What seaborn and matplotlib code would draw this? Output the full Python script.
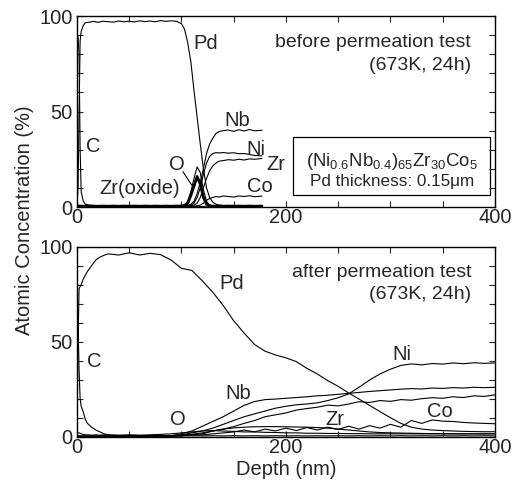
import matplotlib
matplotlib.use("Agg")
import matplotlib.pyplot as plt
import seaborn as sns
from matplotlib.patches import Rectangle
from matplotlib.ticker import MultipleLocator

# ---- before permeation test (673K, 24h) ----
depth_top = [0, 1, 2, 3, 4, 6, 8, 12, 16, 20, 25, 30, 35, 40, 45, 50, 55, 60, 65, 70,
             75, 80, 85, 90, 95, 100, 103, 106, 109, 112, 115, 118, 121, 124, 127, 130,
             133, 136, 140, 145, 150, 155, 160, 165, 170, 177]
pd_top = [2, 10, 50, 87, 92, 95, 96.5, 96.8, 97.2, 96.7, 97.3, 97, 96.8, 97.4, 97, 97.3,
          96.9, 97.5, 97.1, 97.4, 97, 97.6, 97.2, 97.5, 97.3, 96, 93, 86, 76, 61, 47, 33,
          20, 10, 5, 2.5, 1.5, 1, 0.8, 0.6, 0.7, 0.5, 0.6, 0.5, 0.6, 0.5]
c_top = [88, 89, 80, 30, 8, 3, 1.5, 1, 0.8, 0.6, 0.7, 0.5, 0.6, 0.4, 0.6, 0.5, 0.7, 0.5,
         0.4, 0.6, 0.5, 0.7, 0.5, 0.6, 0.4, 0.5, 0.5, 0.4, 0.5, 0.3, 0.4, 0.3, 0.3, 0.4,
         0.3, 0.3, 0.3, 0.3, 0.3, 0.3, 0.3, 0.3, 0.3, 0.3, 0.3, 0.3]
o_top = [1, 1, 0.8, 0.6, 0.5, 0.6, 0.5, 0.4, 0.6, 0.5, 0.4, 0.6, 0.5, 0.4, 0.5, 0.6, 0.4,
         0.5, 0.6, 0.4, 0.5, 0.6, 0.4, 0.5, 0.6, 0.8, 1, 3, 8, 15, 21, 18, 9, 3, 1, 0.6,
         0.5, 0.5, 0.4, 0.5, 0.4, 0.5, 0.4, 0.5, 0.4, 0.5]
zrox_top = [0.4, 0.4, 0.5, 0.4, 0.5, 0.4, 0.5, 0.4, 0.5, 0.4, 0.5, 0.4, 0.5, 0.4, 0.5,
            0.4, 0.5, 0.4, 0.5, 0.4, 0.5, 0.4, 0.5, 0.4, 0.5, 0.5, 0.8, 2, 6, 11, 16, 12,
            5, 1.5, 0.6, 0.5, 0.4, 0.5, 0.4, 0.5, 0.4, 0.5, 0.4, 0.5, 0.4, 0.5]
nb_top = [0.3, 0.3, 0.3, 0.3, 0.3, 0.3, 0.3, 0.3, 0.3, 0.3, 0.3, 0.3, 0.3, 0.3, 0.3, 0.3,
          0.3, 0.3, 0.3, 0.3, 0.3, 0.3, 0.3, 0.3, 0.3, 0.3, 0.5, 0.8, 1.5, 3, 7, 13, 20,
          28, 33, 36, 38.5, 39.5, 40, 40.3, 39.6, 40.5, 39.8, 40.6, 39.9, 40.2]
ni_top = [0.3, 0.3, 0.3, 0.3, 0.3, 0.3, 0.3, 0.3, 0.3, 0.3, 0.3, 0.3, 0.3, 0.3, 0.3, 0.3,
          0.3, 0.3, 0.3, 0.3, 0.3, 0.3, 0.3, 0.3, 0.3, 0.3, 0.3, 0.5, 1, 2, 5, 10, 17,
          23, 26.5, 28, 28.5, 28.3, 28.5, 28.2, 28.4, 27.9, 28, 27.5, 27, 26.8]
zr_top = [0.3, 0.3, 0.3, 0.3, 0.3, 0.3, 0.3, 0.3, 0.3, 0.3, 0.3, 0.3, 0.3, 0.3, 0.3, 0.3,
          0.3, 0.3, 0.3, 0.3, 0.3, 0.3, 0.3, 0.3, 0.3, 0.3, 0.3, 0.3, 0.5, 1, 2, 5, 10,
          15, 19, 21.5, 23, 24, 24.3, 24.8, 24.5, 25, 24.6, 25.2, 25, 25.4]
co_top = [0.3, 0.3, 0.3, 0.3, 0.3, 0.3, 0.3, 0.3, 0.3, 0.3, 0.3, 0.3, 0.3, 0.3, 0.3, 0.3,
          0.3, 0.3, 0.3, 0.3, 0.3, 0.3, 0.3, 0.3, 0.3, 0.3, 0.3, 0.3, 0.3, 0.4, 0.6, 1, 2,
          3.5, 4.5, 5, 5.5, 5.2, 5.8, 5.5, 5.2, 5.8, 5.5, 5.9, 5.4, 5.7]

# ---- after permeation test (673K, 24h) ----
depth_bot = [0, 1, 2, 3, 4, 6, 8, 10, 14, 18, 22, 26, 30, 40, 50, 60, 70, 80, 90, 100,
             110, 120, 130, 140, 150, 160, 170, 180, 190, 200, 210, 220, 230, 240, 250,
             260, 270, 280, 290, 300, 310, 320, 330, 340, 350, 360, 370, 380, 390, 400]
pd_bot = [2, 50, 78, 79, 80, 83, 85, 87, 90, 93, 94.5, 95.5, 96.2, 95.6, 96.8, 95.6,
          96.5, 95.8, 93, 88.6, 87.5, 82, 76, 69, 61, 54.5, 48.5, 45, 43, 41.5, 39.5,
          36, 33, 29.5, 26.5, 23, 19.8, 16.5, 13.2, 10, 7, 5, 4, 3.5, 3.2, 3, 2.8, 2.7,
          2.6, 2.6]
c_bot = [84, 60, 35, 20, 16, 13, 9, 7, 5, 3.5, 2.5, 1.5, 1, 0.6, 0.5, 0.6, 0.5, 0.4,
         0.5, 0.4, 0.5, 0.4, 0.5, 0.4, 0.5, 0.4, 0.5, 0.4, 0.5, 0.4, 0.5, 0.4, 0.5, 0.4,
         0.5, 0.4, 0.5, 0.4, 0.5, 0.4, 0.5, 0.4, 0.5, 0.4, 0.5, 0.4, 0.5, 0.4, 0.5, 0.4]
o_bot = [2, 2, 2, 1.8, 1.5, 1.2, 1, 1, 0.8, 1, 0.8, 1, 0.8, 0.8, 1, 0.8, 1, 1.2, 1.5,
         2, 2.5, 3, 3.2, 3, 2.8, 2.5, 2.5, 2.3, 2.2, 2, 2, 1.8, 1.8, 1.7, 1.7, 1.6, 1.6,
         1.5, 1.5, 1.5, 1.5, 1.5, 1.5, 1.5, 1.5, 1.5, 1.5, 1.5, 1.5, 1.5]
zrox_bot = [0.3, 0.3, 0.3, 0.3, 0.3, 0.3, 0.3, 0.3, 0.3, 0.3, 0.3, 0.3, 0.3, 0.3, 0.3,
            0.3, 0.3, 0.4, 0.5, 0.8, 1.3, 2, 3, 4, 4.6, 5, 5.2, 5.3, 5.3, 5.2, 5.1, 5,
            4.8, 4.5, 4, 3.5, 3, 2.5, 2.2, 2, 1.9, 1.8, 1.7, 1.6, 1.6, 1.5, 1.5, 1.5,
            1.5, 1.5]
nb_bot = [0.2, 0.2, 0.2, 0.2, 0.2, 0.2, 0.2, 0.2, 0.2, 0.2, 0.2, 0.2, 0.2, 0.2, 0.2,
          0.2, 0.3, 0.3, 0.5, 1.5, 3, 5.5, 8, 10.5, 13.5, 16.5, 18.5, 19.5, 19.8, 20.2,
          20.6, 21, 21.5, 21.8, 22.3, 22.8, 23.3, 23.8, 24.2, 24.6, 25, 25.3, 25.1, 25.6,
          25.4, 25.8, 25.6, 26, 25.8, 26]
ni_bot = [0.2, 0.2, 0.2, 0.2, 0.2, 0.2, 0.2, 0.2, 0.2, 0.2, 0.2, 0.2, 0.2, 0.2, 0.2,
          0.2, 0.3, 0.3, 0.5, 1, 2, 3, 4.5, 6.5, 8.5, 10.5, 12, 13.5, 15, 16, 16.8, 17.2,
          17.8, 19, 20.5, 22.5, 26, 29.8, 33, 35.5, 37.5, 38.3, 37.8, 38.5, 38.2, 38.8,
          38.4, 38.9, 38.6, 38.8]
zr_bot = [0.2, 0.2, 0.2, 0.2, 0.2, 0.2, 0.2, 0.2, 0.2, 0.2, 0.2, 0.2, 0.2, 0.2, 0.2,
          0.2, 0.2, 0.3, 0.3, 0.5, 1, 1.5, 3, 4, 5.3, 7, 8.5, 10.5, 11.5, 12.5, 14, 14.8,
          15.5, 16.6, 16.2, 17.2, 18.4, 18, 19, 18.6, 19.5, 19.2, 20, 20.5, 20.2, 21,
          20.6, 21.5, 21.2, 22]
co_bot = [0.2, 0.2, 0.2, 0.2, 0.2, 0.2, 0.2, 0.2, 0.2, 0.2, 0.2, 0.2, 0.2, 0.2, 0.2,
          0.2, 0.2, 0.2, 0.3, 0.5, 0.8, 1, 1.5, 2, 2.5, 3.5, 2.5, 4, 3, 4.5, 3.2, 4.8,
          3.5, 5, 3.8, 5.5, 4, 5.8, 4.5, 6.5, 5, 8.5, 7, 8.8, 8.2, 8, 7.5, 7.2, 7, 6.8]

sns.set_style("ticks")
plt.rcParams["font.family"] = ["Liberation Sans", "DejaVu Sans"]
plt.rcParams["mathtext.fontset"] = "custom"
plt.rcParams["mathtext.rm"] = "Liberation Sans"
plt.rcParams["mathtext.it"] = "Liberation Sans"

fig = plt.figure(figsize=(5.22, 4.83), dpi=100)
ax1 = fig.add_axes([0.1475, 0.5714, 0.8005, 0.3954])
ax2 = fig.add_axes([0.1475, 0.0959, 0.8005, 0.3934])

top_series = [pd_top, c_top, o_top, nb_top, ni_top, zr_top, co_top]
for s in top_series:
    sns.lineplot(x=depth_top, y=s, ax=ax1, color="black", lw=0.8)
sns.lineplot(x=depth_top, y=zrox_top, ax=ax1, color="black", lw=2.0)

bot_series = [pd_bot, c_bot, o_bot, zrox_bot, nb_bot, ni_bot, zr_bot, co_bot]
for s in bot_series:
    sns.lineplot(x=depth_bot, y=s, ax=ax2, color="black", lw=0.8)

for ax in (ax1, ax2):
    ax.set_xlim(0, 400)
    ax.set_ylim(0, 100)
    ax.set_xticks([0, 200, 400])
    ax.set_yticks([0, 50, 100])
    ax.xaxis.set_minor_locator(MultipleLocator(50))
    ax.yaxis.set_minor_locator(MultipleLocator(10))
    ax.tick_params(which="both", direction="in", top=True, right=True,
                   length=4, width=0.8, labelsize=14.5)
    ax.tick_params(axis="x", pad=1)
    ax.tick_params(axis="y", pad=3)
    for sp in ax.spines.values():
        sp.set_linewidth(1.0)
        sp.set_color("black")
    ax.set_xlabel("")
    ax.set_ylabel("")

fs = 14.5
# top labels
ax1.text(123.5, 85.7, "Pd", fontsize=fs, ha="center", va="center")
ax1.text(15.6, 31.6, "C", fontsize=fs, ha="center", va="center")
ax1.text(60, 9.8, "Zr(oxide)", fontsize=fs, ha="center", va="center")
ax1.text(96, 22.5, "O", fontsize=fs, ha="center", va="center")
ax1.plot([101.4, 109.8], [18.5, 11.5], color="black", lw=0.8)
ax1.text(153, 45.5, "Nb", fontsize=fs, ha="center", va="center")
ax1.text(171, 30.2, "Ni", fontsize=fs, ha="center", va="center")
ax1.text(190, 22, "Zr", fontsize=fs, ha="center", va="center")
ax1.text(175, 11, "Co", fontsize=fs, ha="center", va="center")
ax1.text(0.943, 0.86, "before permeation test", transform=ax1.transAxes,
         fontsize=14, ha="right", va="center")
ax1.text(0.943, 0.743, "(673K, 24h)", transform=ax1.transAxes,
         fontsize=14, ha="right", va="center")
ax1.add_patch(Rectangle((0.517, 0.063), 0.471, 0.303, transform=ax1.transAxes,
                        fill=False, edgecolor="black", lw=0.9))
ax1.text(0.753, 0.237, r"(Ni$_{0.6}$Nb$_{0.4}$)$_{65}$Zr$_{30}$Co$_{5}$",
         transform=ax1.transAxes, fontsize=13.4, ha="center", va="center")
ax1.text(0.753, 0.132, "Pd thickness: 0.15\u03bcm", transform=ax1.transAxes,
         fontsize=12.3, ha="center", va="center")

# bottom labels
ax2.text(148, 80.7, "Pd", fontsize=fs, ha="center", va="center")
ax2.text(16.6, 39.8, "C", fontsize=fs, ha="center", va="center")
ax2.text(97, 8.8, "O", fontsize=fs, ha="center", va="center")
ax2.text(154, 22.8, "Nb", fontsize=fs, ha="center", va="center")
ax2.text(310.6, 43, "Ni", fontsize=fs, ha="center", va="center")
ax2.text(247, 8.8, "Zr", fontsize=fs, ha="center", va="center")
ax2.text(347, 13.5, "Co", fontsize=fs, ha="center", va="center")
ax2.text(0.943, 0.863, "after permeation test", transform=ax2.transAxes,
         fontsize=14, ha="right", va="center")
ax2.text(0.943, 0.749, "(673K, 24h)", transform=ax2.transAxes,
         fontsize=14, ha="right", va="center")

fig.text(0.046, 0.545, "Atomic Concentration (%)", rotation=90, fontsize=14.5,
         ha="center", va="center")
fig.text(0.548, 0.027, "Depth (nm)", fontsize=14.5, ha="center", va="center")

plt.savefig("out.png", dpi=100)
